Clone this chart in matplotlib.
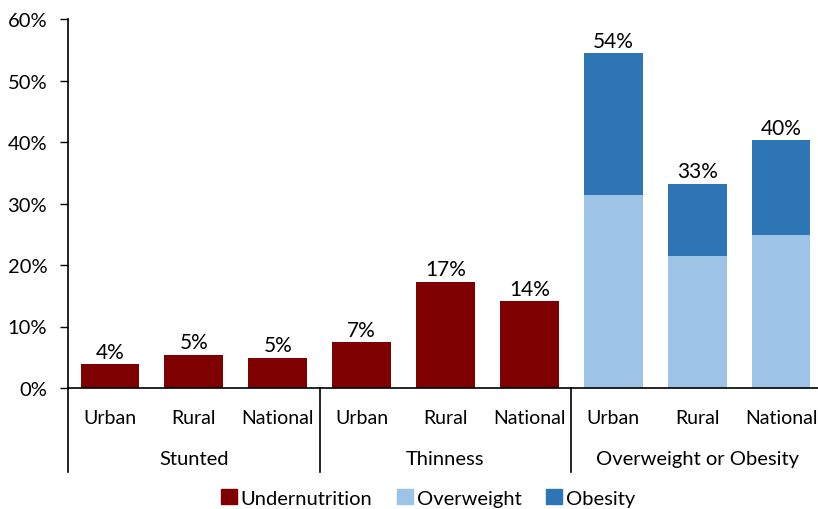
import matplotlib.pyplot as plt
from matplotlib.patches import Patch
import matplotlib.transforms as mtransforms

plt.rcParams['font.family'] = ['Lato', 'DejaVu Sans']

groups = ['Stunted', 'Thinness', 'Overweight or Obesity']
areas = ['Urban', 'Rural', 'National']
undernutrition = [3.9, 5.4, 4.9, 7.4, 17.3, 14.1]
overweight = [31.4, 21.5, 24.8]
obesity = [23.0, 11.7, 15.5]
yticks = [0, 10, 20, 30, 40, 50, 60]

c_under = '#7F0000'
c_over = '#9DC3E6'
c_obese = '#2E75B6'
fs = 14.5

fig = plt.figure(figsize=(8.18, 5.10), dpi=100)
ax = fig.add_axes([68 / 818, 121 / 510, 755 / 818, 369 / 510])

x_under = list(range(len(undernutrition)))
x_ow = [len(undernutrition) + i for i in range(len(overweight))]
w = 0.7

ax.bar(x_under, undernutrition, width=w, color=c_under)
ax.bar(x_ow, overweight, width=w, color=c_over)
ax.bar(x_ow, obesity, width=w, bottom=overweight, color=c_obese)

for xi, v in zip(x_under, undernutrition):
    ax.text(xi, v + 0.4, '{:.0f}%'.format(v), ha='center', va='bottom', fontsize=15)
for xi, a, b in zip(x_ow, overweight, obesity):
    ax.text(xi, a + b + 0.4, '{:.0f}%'.format(a + b), ha='center', va='bottom', fontsize=15)

ax.set_xlim(-0.5, 8.5)
ax.set_ylim(0, 60)
ax.set_yticks(yticks)
ax.set_yticklabels(['{}%'.format(t) for t in yticks], fontsize=fs)
ax.tick_params(axis='y', length=6, width=1, pad=9)
ax.set_xticks([])
for s in ['top', 'right']:
    ax.spines[s].set_visible(False)
ax.spines['left'].set_linewidth(1.2)
ax.spines['bottom'].set_linewidth(1.2)

trans = mtransforms.blended_transform_factory(ax.transData, ax.transAxes)
for i in range(9):
    ax.text(i, -0.079, areas[i % 3], transform=trans, ha='center', va='center', fontsize=14)
for g, name in enumerate(groups):
    ax.text(g * 3 + 1, -0.192, name, transform=trans, ha='center', va='center', fontsize=fs)
for xs in [-0.5, 2.5, 5.5]:
    ax.plot([xs, xs], [0, -0.228], transform=trans, color='black', lw=1.2, clip_on=False)

handles = [Patch(color=c_under, label='Undernutrition'),
           Patch(color=c_over, label='Overweight'),
           Patch(color=c_obese, label='Obesity')]
fig.legend(handles=handles, loc='center', bbox_to_anchor=(0.523, 0.022), ncol=3,
           frameon=False, fontsize=fs, handlelength=0.8, handleheight=0.8,
           handletextpad=0.2, columnspacing=1.2)

fig.savefig('out.png', dpi=100)
